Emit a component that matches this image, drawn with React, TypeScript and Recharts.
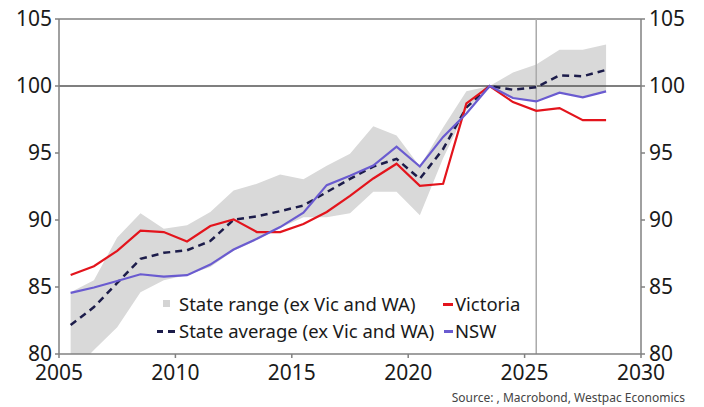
import React from "react";
import {
  ComposedChart,
  Area,
  Line,
  XAxis,
  YAxis,
  ReferenceLine,
} from "recharts";

const years = [
  2005.5, 2006.5, 2007.5, 2008.5, 2009.5, 2010.5, 2011.5, 2012.5, 2013.5, 2014.5,
  2015.5, 2016.5, 2017.5, 2018.5, 2019.5, 2020.5, 2021.5, 2022.5, 2023.5, 2024.5,
  2025.5, 2026.5, 2027.5, 2028.5,
];

const victoria = [
  85.9, 86.55, 87.7, 89.2, 89.1, 88.4, 89.55, 90.05, 89.1, 89.1,
  89.7, 90.6, 91.8, 93.1, 94.2, 92.55, 92.7, 98.7, 100, 98.8,
  98.15, 98.35, 97.45, 97.45,
];

const nsw = [
  84.56, 84.96, 85.45, 85.95, 85.78, 85.88, 86.67, 87.8, 88.6, 89.47,
  90.54, 92.6, 93.3, 94.06, 95.48, 93.99, 96.2, 97.95, 100, 99.1,
  98.85, 99.5, 99.15, 99.6,
];

const stateAverage = [
  82.16, 83.5, 85.3, 87.1, 87.55, 87.74, 88.43, 90.02, 90.27, 90.66,
  91.08, 92.08, 93.07, 93.99, 94.56, 93.07, 95.3, 98.4, 100, 99.72,
  99.9, 100.8, 100.73, 101.2,
];

const rangeLow = [
  78.5, 80.3, 82.0, 84.6, 85.5, 85.9, 86.5, 87.7, 88.5, 89.4,
  90.2, 90.2, 90.5, 92.1, 92.1, 90.35, 94.6, 98.2, 100, 99.1,
  98.9, 99.5, 99.2, 99.6,
];

const rangeHigh = [
  84.6, 85.5, 88.7, 90.5, 89.35, 89.6, 90.6, 92.2, 92.7, 93.4,
  93.05, 94.05, 94.95, 97.0, 96.3, 94.0, 96.9, 99.6, 100, 101.0,
  101.6, 102.7, 102.7, 103.1,
];

const xTicks = [2005, 2010, 2015, 2020, 2025, 2030];
const yTicks = [80, 85, 90, 95, 100, 105];

const data = years.map((y, i) => ({
  year: y,
  range: [rangeLow[i], rangeHigh[i]],
  victoria: victoria[i],
  nsw: nsw[i],
  avg: stateAverage[i],
}));

const FONT = "'Noto Sans', sans-serif";
const AXIS = "#808080";
const RED = "#e3141c";
const PURPLE = "#6a5bd0";
const NAVY = "#1c1c4a";
const BAND = "#d9d9d9";

const tickStyle = { fill: "#1a1a1a", fontSize: 21, fontFamily: FONT };

export default function App() {
  return (
    <div
      style={{
        position: "absolute",
        left: 0,
        top: 0,
        width: 704,
        height: 407,
        background: "#fff",
        fontFamily: FONT,
        overflow: "hidden",
      }}
    >
      <ComposedChart
        width={704}
        height={407}
        data={data}
        margin={{ top: 19, right: 0, left: 0, bottom: 23 }}
      >
        <XAxis
          dataKey="year"
          type="number"
          domain={[2005, 2030]}
          ticks={xTicks}
          allowDataOverflow
          stroke={AXIS}
          strokeWidth={1.5}
          tickSize={4}
          tickMargin={7}
          height={30}
          tick={tickStyle}
          tickLine={{ stroke: AXIS, strokeWidth: 1.5 }}
        />
        <YAxis
          yAxisId="left"
          domain={[80, 105]}
          ticks={yTicks}
          allowDataOverflow
          width={59}
          stroke={AXIS}
          strokeWidth={1.5}
          tickSize={4}
          tickMargin={3}
          tick={tickStyle}
          tickLine={{ stroke: AXIS, strokeWidth: 1.5 }}
        />
        <YAxis
          yAxisId="right"
          orientation="right"
          domain={[80, 105]}
          ticks={yTicks}
          allowDataOverflow
          width={63}
          stroke={AXIS}
          strokeWidth={1.5}
          tickSize={4}
          tickMargin={4}
          tick={{ ...tickStyle, textAnchor: "start" }}
          tickLine={{ stroke: AXIS, strokeWidth: 1.5 }}
        />
        <Area
          yAxisId="left"
          dataKey="range"
          fill={BAND}
          fillOpacity={1}
          stroke="none"
          isAnimationActive={false}
          dot={false}
          activeDot={false}
        />
        <ReferenceLine yAxisId="left" y={105} stroke={AXIS} strokeWidth={1.5} />
        <ReferenceLine yAxisId="left" y={100} stroke="#555" strokeWidth={1.5} />
        <ReferenceLine yAxisId="left" x={2025.5} stroke="#aaaaaa" strokeWidth={1.5} />
        <Line
          yAxisId="left"
          dataKey="avg"
          stroke={NAVY}
          strokeWidth={2.5}
          strokeDasharray="7 5"
          dot={false}
          activeDot={false}
          isAnimationActive={false}
        />
        <Line
          yAxisId="left"
          dataKey="victoria"
          stroke={RED}
          strokeWidth={2.2}
          dot={false}
          activeDot={false}
          isAnimationActive={false}
        />
        <Line
          yAxisId="left"
          dataKey="nsw"
          stroke={PURPLE}
          strokeWidth={2.2}
          dot={false}
          activeDot={false}
          isAnimationActive={false}
        />
      </ComposedChart>

      {/* Legend */}
      <div style={{ position: "absolute", left: 0, top: 0, width: 704, height: 407, pointerEvents: "none", color: "#1a1a1a", fontSize: 18.5, lineHeight: "22px" }}>
        <div style={{ position: "absolute", left: 163, top: 300, width: 7, height: 7, background: "#d4d4d4" }} />
        <div style={{ position: "absolute", left: 179, top: 293, whiteSpace: "nowrap" }}>State range (ex Vic and WA)</div>
        <div style={{ position: "absolute", left: 443, top: 303, width: 10, height: 2.5, background: RED }} />
        <div style={{ position: "absolute", left: 455, top: 293, whiteSpace: "nowrap" }}>Victoria</div>

        <div style={{ position: "absolute", left: 157, top: 330, width: 6, height: 2.5, background: NAVY }} />
        <div style={{ position: "absolute", left: 168, top: 330, width: 7, height: 2.5, background: NAVY }} />
        <div style={{ position: "absolute", left: 179, top: 320, whiteSpace: "nowrap" }}>State average (ex Vic and WA)</div>
        <div style={{ position: "absolute", left: 444, top: 330, width: 9, height: 2.5, background: PURPLE }} />
        <div style={{ position: "absolute", left: 455, top: 320, whiteSpace: "nowrap" }}>NSW</div>
      </div>

      <div
        style={{
          position: "absolute",
          right: 19,
          top: 391,
          fontSize: 12,
          lineHeight: "14px",
          color: "#444",
          whiteSpace: "nowrap",
        }}
      >
        Source: , Macrobond, Westpac Economics
      </div>
    </div>
  );
}
